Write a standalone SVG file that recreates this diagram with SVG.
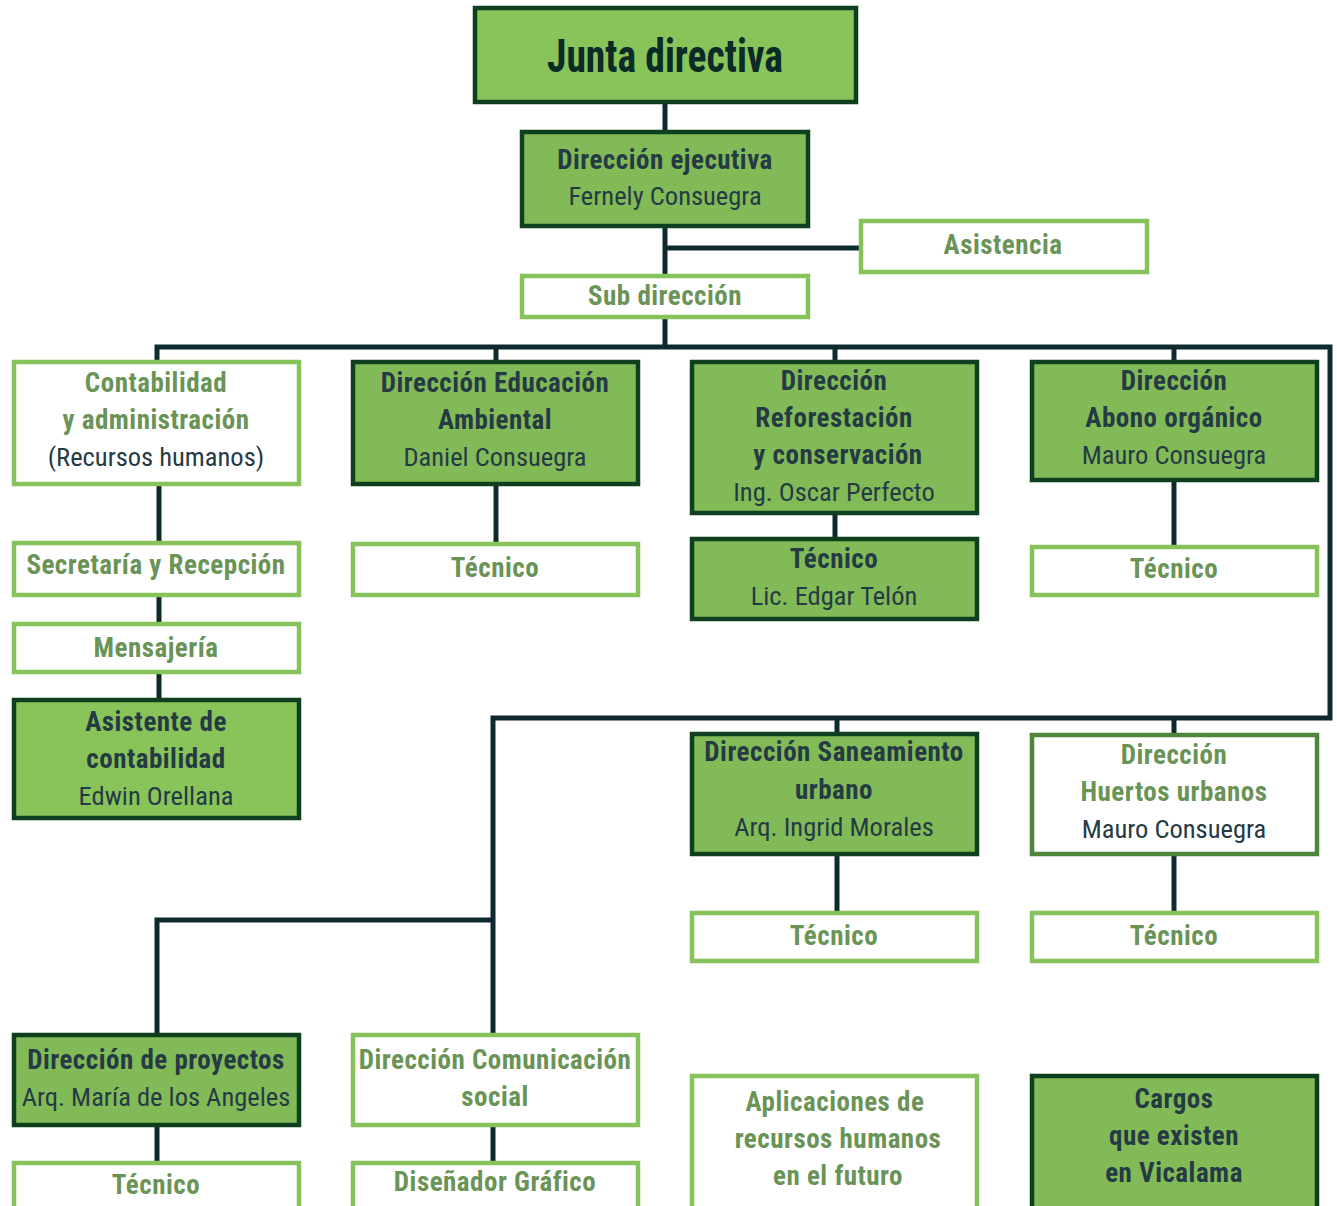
<svg xmlns="http://www.w3.org/2000/svg" width="1337" height="1206" viewBox="0 0 1337 1206">
<style>
text{font-family:"Liberation Sans Narrow","Roboto Condensed","DejaVu Sans Condensed","Liberation Sans",sans-serif;text-anchor:middle;font-size:26.5px}
.dk{fill:#82ba58;stroke:#0e4020;stroke-width:4.5}
.lt{fill:#ffffff;stroke:#87c35b;stroke-width:4.5}
.md{fill:#ffffff;stroke:#4f853c;stroke-width:4.5}
.b{font-weight:bold;font-size:27px;letter-spacing:0.5px}
.td{fill:#263a44}
.tl{fill:#6a9356}
.con{fill:none;stroke:#0f2a2e;stroke-width:5}
</style>
<rect width="1337" height="1206" fill="#ffffff"/>
<g id="connectors">
<path class="con" d="M665 103V348M665 248H860"/>
<path class="con" d="M157 360V347H1330V718H493V1033M496 347V360M835 347V360M1174 347V360"/>
<path class="con" d="M159 485V698M496 485V542M835 514V537M1174 481V545"/>
<path class="con" d="M837 718V732M1174 718V733M837 855V911M1174 855V911"/>
<path class="con" d="M493 920H157V1033M157 1126V1161M493 1126V1161"/>
</g>
<g id="junta"><rect class="dk" x="475" y="8" width="381" height="94" style="fill:#88c45a"/><text x="665" y="72" textLength="236" lengthAdjust="spacingAndGlyphs" style="font-size:47px;font-weight:bold;fill:#0c2a26">Junta directiva</text></g>
<g id="ejecutiva"><rect class="dk" x="522" y="132" width="286" height="94"/><text class="b td" x="665" y="169">Dirección ejecutiva</text><text class="td" x="665" y="205">Fernely Consuegra</text></g>
<g id="asistencia"><rect class="lt" x="861" y="221" width="286" height="51"/><text class="b tl" x="1003" y="254">Asistencia</text></g>
<g id="subdireccion"><rect class="lt" x="522" y="276" width="286" height="41"/><text class="b tl" x="665" y="305">Sub dirección</text></g>
<g id="contabilidad"><rect class="lt" x="14" y="362" width="285" height="122"/><text class="b tl" x="156" y="392">Contabilidad</text><text class="b tl" x="156" y="429">y administración</text><text class="td" x="156" y="466">(Recursos humanos)</text></g>
<g id="educacion"><rect class="dk" x="353" y="362" width="285" height="122"/><text class="b td" x="495" y="392">Dirección Educación</text><text class="b td" x="495" y="429">Ambiental</text><text class="td" x="495" y="466">Daniel Consuegra</text></g>
<g id="reforestacion"><rect class="dk" x="692" y="362" width="285" height="151"/><text class="b td" x="834" y="390">Dirección</text><text class="b td" x="834" y="427">Reforestación</text><text class="b td" x="838" y="464">y conservación</text><text class="td" x="834" y="501">Ing. Oscar Perfecto</text></g>
<g id="abono"><rect class="dk" x="1032" y="362" width="285" height="118"/><text class="b td" x="1174" y="390">Dirección</text><text class="b td" x="1174" y="427">Abono orgánico</text><text class="td" x="1174" y="464">Mauro Consuegra</text></g>
<g id="secretaria"><rect class="lt" x="14" y="543" width="285" height="52"/><text class="b tl" x="156" y="574">Secretaría y Recepción</text></g>
<g id="mensajeria"><rect class="lt" x="14" y="624" width="285" height="48"/><text class="b tl" x="156" y="657">Mensajería</text></g>
<g id="asistente"><rect class="dk" x="14" y="700" width="285" height="118" style="fill:#88c45a"/><text class="b td" x="156" y="731">Asistente de</text><text class="b td" x="156" y="768">contabilidad</text><text class="td" x="156" y="805">Edwin Orellana</text></g>
<g id="tecnico-edu"><rect class="lt" x="353" y="544" width="285" height="51"/><text class="b tl" x="495" y="577">Técnico</text></g>
<g id="tecnico-ref"><rect class="dk" x="692" y="539" width="285" height="80"/><text class="b td" x="834" y="568">Técnico</text><text class="td" x="834" y="605">Lic. Edgar Telón</text></g>
<g id="tecnico-abono"><rect class="lt" x="1032" y="547" width="285" height="48"/><text class="b tl" x="1174" y="578">Técnico</text></g>
<g id="saneamiento"><rect class="dk" x="692" y="734" width="285" height="120"/><text class="b td" x="834" y="761">Dirección Saneamiento</text><text class="b td" x="834" y="799">urbano</text><text class="td" x="834" y="836">Arq. Ingrid Morales</text></g>
<g id="huertos"><rect class="md" x="1032" y="735" width="285" height="119"/><text class="b tl" x="1174" y="764">Dirección</text><text class="b tl" x="1174" y="801">Huertos urbanos</text><text class="td" x="1174" y="838">Mauro Consuegra</text></g>
<g id="tecnico-san"><rect class="lt" x="692" y="913" width="285" height="48"/><text class="b tl" x="834" y="945">Técnico</text></g>
<g id="tecnico-huertos"><rect class="lt" x="1032" y="913" width="285" height="48"/><text class="b tl" x="1174" y="945">Técnico</text></g>
<g id="proyectos"><rect class="dk" x="14" y="1035" width="285" height="90"/><text class="b td" x="156" y="1069">Dirección de proyectos</text><text class="td" x="156" y="1106">Arq. María de los Angeles</text></g>
<g id="comunicacion"><rect class="lt" x="353" y="1035" width="285" height="90"/><text class="b tl" x="495" y="1069">Dirección Comunicación</text><text class="b tl" x="495" y="1106">social</text></g>
<g id="tecnico-proy"><rect class="lt" x="14" y="1163" width="285" height="50"/><text class="b tl" x="156" y="1194">Técnico</text></g>
<g id="disenador"><rect class="lt" x="353" y="1163" width="285" height="50"/><text class="b tl" x="495" y="1191">Diseñador Gráfico</text></g>
<g id="aplicaciones"><rect class="lt" x="692" y="1076" width="285" height="137"/><text class="b tl" x="835" y="1111">Aplicaciones de</text><text class="b tl" x="838" y="1148">recursos humanos</text><text class="b tl" x="838" y="1185">en el futuro</text></g>
<g id="cargos"><rect class="dk" x="1032" y="1076" width="285" height="137"/><text class="b td" x="1174" y="1108">Cargos</text><text class="b td" x="1174" y="1145">que existen</text><text class="b td" x="1174" y="1182">en Vicalama</text></g>
</svg>
